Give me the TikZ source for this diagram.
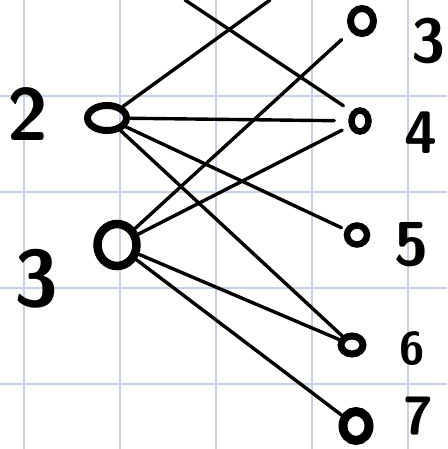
\documentclass[tikz,border=0pt]{standalone}
\usetikzlibrary{shapes.geometric}
\definecolor{gridblue}{RGB}{197,209,229}
\tikzset{
  gridline/.style={draw=gridblue, line width=2pt},
  edge/.style={draw=black, line width=3.4pt, line cap=round},
  vertex/.style={ellipse, draw=black, line width=7pt, inner sep=0pt},
  digit/.style={font=\sffamily\bfseries\fontsize{#1}{#1}\selectfont, inner sep=0pt},
}
\begin{document}
\begin{tikzpicture}[x=1pt, y=-1pt]
\useasboundingbox (0,0) rectangle (447,449);
\foreach \gx in {24,120,...,408} \draw[gridline] (\gx,0) -- (\gx,449);
\foreach \gy in {96,192,...,384} \draw[gridline] (0,\gy) -- (447,\gy);
\node[vertex, minimum width=39, minimum height=25] (v2) at (107,118) {};
\node[vertex, minimum width=39, minimum height=42, line width=8.5pt] (v3) at (117,245) {};
\node[vertex, minimum width=23, minimum height=25] (w3) at (362,21) {};
\node[vertex, minimum width=17, minimum height=21, line width=6.5pt] (w4) at (360,121) {};
\node[vertex, minimum width=20, minimum height=19, line width=6.5pt] (w5) at (357,235) {};
\node[vertex, minimum width=22, minimum height=18] (w6) at (352,345) {};
\node[vertex, minimum width=26, minimum height=29, line width=9pt] (w7) at (356,426) {};
\coordinate (offa) at (270,0);
\coordinate (offb) at (185,0);
\node[digit=74] (lab2) at (28,114) {2};
\node[digit=80] (lab3) at (36,279) {3};
\node[digit=62] (labr3) at (429,41) {3};
\node[digit=60] (labr4) at (421,133) {4};
\node[digit=62] (labr5) at (412,245) {5};
\node[digit=46] (labr6) at (412,349) {6};
\node[digit=54] (labr7) at (418,416) {7};
\draw[edge] (v2) -- (offa);
\draw[edge, shorten >=10pt] (offb) -- (w4.north west);
\draw[edge, shorten >=14pt] (v2) -- (w4);
\draw[edge, shorten >=4pt] (v2) -- (w5);
\draw[edge] (v2) -- (w6);
\draw[edge, shorten >=12pt] (v3) -- (w3);
\draw[edge, shorten >=8pt] (v3) -- (w4);
\draw[edge] (v3) -- (w6);
\draw[edge] (v3) -- (w7);
\end{tikzpicture}
\end{document}
